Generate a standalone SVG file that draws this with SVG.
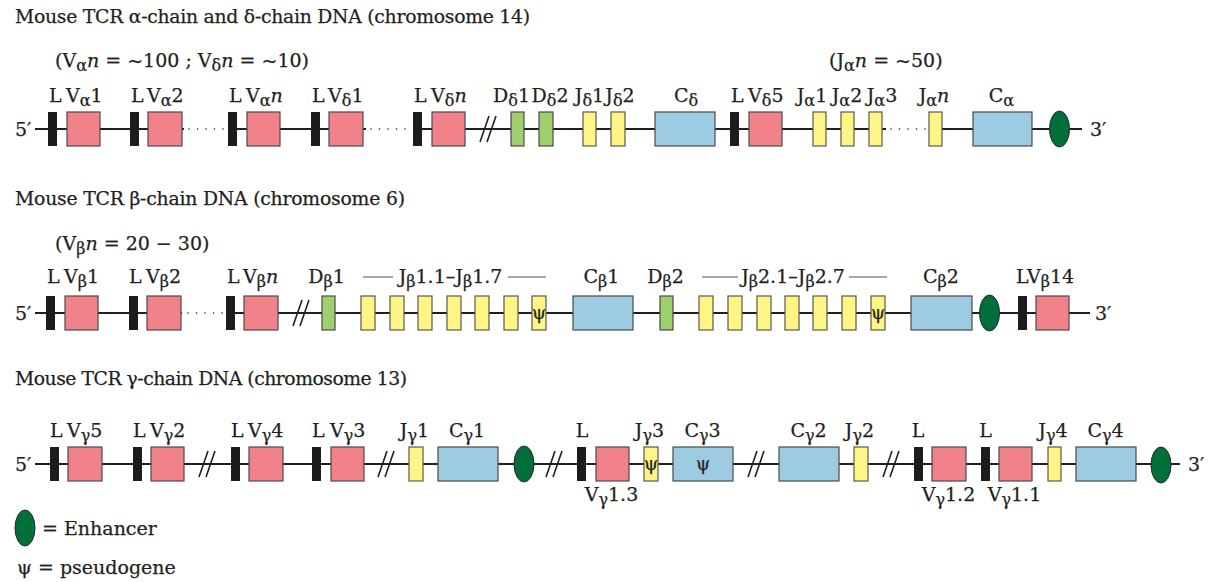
<svg xmlns="http://www.w3.org/2000/svg" width="1215" height="582" viewBox="0 0 1215 582">
<style>
.t{font-family:"DejaVu Serif","Liberation Serif",serif;fill:#231f20;font-size:19px;stroke:#231f20;stroke-width:0.25}
.ti{font-size:18.8px}
.s{font-size:16px}
.it{font-style:italic}
.ps{font-size:18px;text-anchor:middle}
.m{text-anchor:middle}
.L{fill:#1f1a1c}
.V{fill:#f28289;stroke:#4a4a4a;stroke-width:1.2}
.D{fill:#a0cf6e;stroke:#4a4a4a;stroke-width:1.2}
.J{fill:#fff586;stroke:#5a5a4a;stroke-width:1.2}
.C{fill:#9dcbe1;stroke:#4a4a4a;stroke-width:1.2}
.E{fill:#006f3a;stroke:#2a2a2a;stroke-width:1}
.bb{stroke:#231f20;stroke-width:2;fill:none}
.dt{stroke:#231f20;stroke-width:1.6;stroke-dasharray:0 8.5;stroke-linecap:round;fill:none}
.sl{stroke:#231f20;stroke-width:1.6;fill:none}
.br{stroke:#8a8a8a;stroke-width:1.5}
</style>

<!-- Titles -->
<text class="t ti" x="15" y="23" textLength="515">Mouse TCR α-chain and δ-chain DNA (chromosome 14)</text>
<text class="t ti" x="15" y="205" textLength="390">Mouse TCR β-chain DNA (chromosome 6)</text>
<text class="t ti" x="15" y="385" textLength="392">Mouse TCR γ-chain DNA (chromosome 13)</text>

<!-- Connectors: backbones, dots, breaks -->
<g id="connectors">
  <path class="bb" d="M35 129H184M228 129H366M413 129H886M929 129H1082"/>
  <path class="dt" d="M189 129H224M371 129H408M891 129H926"/>
  <path class="sl" d="M480 142L489 116M487 142L496 116"/>
  <path class="bb" d="M35 313H182M226 313H1090"/>
  <path class="dt" d="M188 313H223"/>
  <path class="sl" d="M293 326L302 300M300 326L309 300"/>
  <path class="bb" d="M35 464H1180"/>
  <path class="sl" d="M199 477L208 451M206 477L215 451"/>
  <path class="sl" d="M378 477L387 451M385 477L394 451"/>
  <path class="sl" d="M546 477L555 451M553 477L562 451"/>
  <path class="sl" d="M748 477L757 451M755 477L764 451"/>
  <path class="sl" d="M883 477L892 451M890 477L899 451"/>
</g>

<!-- Row 1 -->
<text class="t" x="15" y="136">5′</text>
<text class="t" x="1090" y="136">3′</text>
<text class="t" x="55" y="67">(V<tspan class="s" dy="4">α</tspan><tspan class="it" dy="-4">n</tspan> = ~100 ; V<tspan class="s" dy="4">δ</tspan><tspan class="it" dy="-4">n</tspan> = ~10)</text>
<text class="t" x="829" y="67">(J<tspan class="s" dy="4">α</tspan><tspan class="it" dy="-4">n</tspan> = ~50)</text>

<g id="Va1"><rect class="L" x="48" y="112" width="9" height="34"/><rect class="V" x="67" y="112" width="33" height="34"/><text class="t" y="102"><tspan x="49">L</tspan><tspan x="66">V</tspan><tspan class="s" dy="4">α</tspan><tspan dy="-4">1</tspan></text></g>
<g id="Va2"><rect class="L" x="130" y="112" width="9" height="34"/><rect class="V" x="148" y="112" width="34" height="34"/><text class="t" y="102"><tspan x="131">L</tspan><tspan x="147">V</tspan><tspan class="s" dy="4">α</tspan><tspan dy="-4">2</tspan></text></g>
<g id="Van"><rect class="L" x="228" y="112" width="9" height="34"/><rect class="V" x="247" y="112" width="33" height="34"/><text class="t" y="102"><tspan x="229">L</tspan><tspan x="246">V</tspan><tspan class="s" dy="4">α</tspan><tspan class="it" dy="-4">n</tspan></text></g>
<g id="Vd1"><rect class="L" x="311" y="112" width="9" height="34"/><rect class="V" x="329" y="112" width="34" height="34"/><text class="t" y="102"><tspan x="312">L</tspan><tspan x="328">V</tspan><tspan class="s" dy="4">δ</tspan><tspan dy="-4">1</tspan></text></g>
<g id="Vdn"><rect class="L" x="413" y="112" width="9" height="34"/><rect class="V" x="432" y="112" width="33" height="34"/><text class="t" y="102"><tspan x="414">L</tspan><tspan x="431">V</tspan><tspan class="s" dy="4">δ</tspan><tspan class="it" dy="-4">n</tspan></text></g>
<g id="Dd1"><rect class="D" x="511" y="112" width="13" height="34"/><text class="t m" x="511.5" y="102">D<tspan class="s" dy="4">δ</tspan><tspan dy="-4">1</tspan></text></g>
<g id="Dd2"><rect class="D" x="539" y="112" width="14" height="34"/><text class="t m" x="550" y="102">D<tspan class="s" dy="4">δ</tspan><tspan dy="-4">2</tspan></text></g>
<g id="Jd1"><rect class="J" x="583" y="112" width="13" height="34"/><text class="t m" x="589.5" y="102">J<tspan class="s" dy="4">δ</tspan><tspan dy="-4">1</tspan></text></g>
<g id="Jd2"><rect class="J" x="611" y="112" width="14" height="34"/><text class="t m" x="620" y="102">J<tspan class="s" dy="4">δ</tspan><tspan dy="-4">2</tspan></text></g>
<g id="Cd"><rect class="C" x="655" y="112" width="60" height="34"/><text class="t m" x="686" y="102">C<tspan class="s" dy="4">δ</tspan></text></g>
<g id="Vd5"><rect class="L" x="730" y="112" width="9" height="34"/><rect class="V" x="749" y="112" width="33" height="34"/><text class="t" y="102"><tspan x="731">L</tspan><tspan x="748">V</tspan><tspan class="s" dy="4">δ</tspan><tspan dy="-4">5</tspan></text></g>
<g id="Ja1"><rect class="J" x="813" y="112" width="13" height="34"/><text class="t m" x="812" y="102">J<tspan class="s" dy="4">α</tspan><tspan dy="-4">1</tspan></text></g>
<g id="Ja2"><rect class="J" x="841" y="112" width="13" height="34"/><text class="t m" x="847" y="102">J<tspan class="s" dy="4">α</tspan><tspan dy="-4">2</tspan></text></g>
<g id="Ja3"><rect class="J" x="869" y="112" width="13" height="34"/><text class="t m" x="882" y="102">J<tspan class="s" dy="4">α</tspan><tspan dy="-4">3</tspan></text></g>
<g id="Jan"><rect class="J" x="929" y="112" width="13" height="34"/><text class="t m" x="934" y="102">J<tspan class="s" dy="4">α</tspan><tspan class="it" dy="-4">n</tspan></text></g>
<g id="Ca"><rect class="C" x="973" y="112" width="59" height="34"/><text class="t m" x="1001.5" y="102">C<tspan class="s" dy="4">α</tspan></text></g>
<g id="Enh1"><ellipse class="E" cx="1059.5" cy="129" rx="10" ry="18"/></g>

<!-- Row 2 -->
<text class="t" x="15" y="320">5′</text>
<text class="t" x="1095" y="320">3′</text>
<text class="t" x="55" y="250">(V<tspan class="s" dy="4">β</tspan><tspan class="it" dy="-4">n</tspan> = 20 − 30)</text>

<g id="Vb1"><rect class="L" x="46" y="296" width="9" height="34"/><rect class="V" x="65" y="296" width="33" height="34"/><text class="t" y="283"><tspan x="47">L</tspan><tspan x="64">V</tspan><tspan class="s" dy="4">β</tspan><tspan dy="-4">1</tspan></text></g>
<g id="Vb2"><rect class="L" x="129" y="296" width="9" height="34"/><rect class="V" x="147" y="296" width="34" height="34"/><text class="t" y="283"><tspan x="129">L</tspan><tspan x="146">V</tspan><tspan class="s" dy="4">β</tspan><tspan dy="-4">2</tspan></text></g>
<g id="Vbn"><rect class="L" x="226" y="296" width="9" height="34"/><rect class="V" x="244" y="296" width="34" height="34"/><text class="t" y="283"><tspan x="227">L</tspan><tspan x="243">V</tspan><tspan class="s" dy="4">β</tspan><tspan class="it" dy="-4">n</tspan></text></g>
<g id="Db1"><rect class="D" x="322" y="296" width="13" height="34"/><text class="t m" x="326.5" y="283">D<tspan class="s" dy="4">β</tspan><tspan dy="-4">1</tspan></text></g>
<g id="Jb1">
  <line class="br" x1="363" y1="277" x2="393" y2="277"/><line class="br" x1="508" y1="277" x2="546" y2="277"/>
  <text class="t m" x="450.5" y="283">J<tspan class="s" dy="4">β</tspan><tspan dy="-4">1.1–J</tspan><tspan class="s" dy="4">β</tspan><tspan dy="-4">1.7</tspan></text>
  <rect class="J" x="361" y="296" width="14" height="34"/><rect class="J" x="390" y="296" width="14" height="34"/><rect class="J" x="418" y="296" width="14" height="34"/><rect class="J" x="447" y="296" width="14" height="34"/><rect class="J" x="475" y="296" width="14" height="34"/><rect class="J" x="504" y="296" width="14" height="34"/><rect class="J" x="532" y="296" width="14" height="34"/>
  <text class="t ps" x="539" y="319">ψ</text>
</g>
<g id="Cb1"><rect class="C" x="573" y="296" width="60" height="34"/><text class="t m" x="601.5" y="283">C<tspan class="s" dy="4">β</tspan><tspan dy="-4">1</tspan></text></g>
<g id="Db2"><rect class="D" x="660" y="296" width="13" height="34"/><text class="t m" x="665.5" y="283">D<tspan class="s" dy="4">β</tspan><tspan dy="-4">2</tspan></text></g>
<g id="Jb2">
  <line class="br" x1="702" y1="277" x2="738" y2="277"/><line class="br" x1="849" y1="277" x2="887" y2="277"/>
  <text class="t m" x="793" y="283">J<tspan class="s" dy="4">β</tspan><tspan dy="-4">2.1–J</tspan><tspan class="s" dy="4">β</tspan><tspan dy="-4">2.7</tspan></text>
  <rect class="J" x="699" y="296" width="14" height="34"/><rect class="J" x="728" y="296" width="14" height="34"/><rect class="J" x="757" y="296" width="14" height="34"/><rect class="J" x="785" y="296" width="14" height="34"/><rect class="J" x="813" y="296" width="14" height="34"/><rect class="J" x="842" y="296" width="14" height="34"/><rect class="J" x="871" y="296" width="14" height="34"/>
  <text class="t ps" x="878" y="319">ψ</text>
</g>
<g id="Cb2"><rect class="C" x="911" y="296" width="61" height="34"/><text class="t m" x="941" y="283">C<tspan class="s" dy="4">β</tspan><tspan dy="-4">2</tspan></text></g>
<g id="Enh2"><ellipse class="E" cx="989.5" cy="313" rx="10" ry="18"/></g>
<g id="Vb14"><rect class="L" x="1018" y="296" width="9" height="34"/><rect class="V" x="1036" y="296" width="33" height="34"/><text class="t" y="283"><tspan x="1016">L</tspan><tspan x="1027">V</tspan><tspan class="s" dy="4">β</tspan><tspan dy="-4">14</tspan></text></g>

<!-- Row 3 -->
<text class="t" x="15" y="471">5′</text>
<text class="t" x="1188" y="471">3′</text>

<g id="Vg5"><rect class="L" x="50" y="447" width="9" height="34"/><rect class="V" x="68" y="447" width="34" height="34"/><text class="t" y="437"><tspan x="50">L</tspan><tspan x="67">V</tspan><tspan class="s" dy="4">γ</tspan><tspan dy="-4">5</tspan></text></g>
<g id="Vg2"><rect class="L" x="133" y="447" width="9" height="34"/><rect class="V" x="151" y="447" width="33" height="34"/><text class="t" y="437"><tspan x="133">L</tspan><tspan x="150">V</tspan><tspan class="s" dy="4">γ</tspan><tspan dy="-4">2</tspan></text></g>
<g id="Vg4"><rect class="L" x="231" y="447" width="9" height="34"/><rect class="V" x="249" y="447" width="34" height="34"/><text class="t" y="437"><tspan x="231">L</tspan><tspan x="248">V</tspan><tspan class="s" dy="4">γ</tspan><tspan dy="-4">4</tspan></text></g>
<g id="Vg3"><rect class="L" x="312" y="447" width="9" height="34"/><rect class="V" x="331" y="447" width="33" height="34"/><text class="t" y="437"><tspan x="312">L</tspan><tspan x="330">V</tspan><tspan class="s" dy="4">γ</tspan><tspan dy="-4">3</tspan></text></g>
<g id="Jg1"><rect class="J" x="409" y="447" width="14" height="34"/><text class="t m" x="414.5" y="437">J<tspan class="s" dy="4">γ</tspan><tspan dy="-4">1</tspan></text></g>
<g id="Cg1"><rect class="C" x="438" y="447" width="60" height="34"/><text class="t m" x="467" y="437">C<tspan class="s" dy="4">γ</tspan><tspan dy="-4">1</tspan></text></g>
<g id="Enh3"><ellipse class="E" cx="524" cy="464" rx="10" ry="18"/></g>
<g id="Vg13"><rect class="L" x="577" y="447" width="9" height="34"/><rect class="V" x="596" y="447" width="33" height="34"/><text class="t m" x="582" y="437">L</text><text class="t m" x="611.5" y="501">V<tspan class="s" dy="4">γ</tspan><tspan dy="-4">1.3</tspan></text></g>
<g id="Jg3"><rect class="J" x="644" y="447" width="14" height="34"/><text class="t ps" x="651" y="470">ψ</text><text class="t m" x="649.5" y="437">J<tspan class="s" dy="4">γ</tspan><tspan dy="-4">3</tspan></text></g>
<g id="Cg3"><rect class="C" x="673" y="447" width="60" height="34"/><text class="t ps" x="703" y="470">ψ</text><text class="t m" x="702.5" y="437">C<tspan class="s" dy="4">γ</tspan><tspan dy="-4">3</tspan></text></g>
<g id="Cg2"><rect class="C" x="779" y="447" width="60" height="34"/><text class="t m" x="808.5" y="437">C<tspan class="s" dy="4">γ</tspan><tspan dy="-4">2</tspan></text></g>
<g id="Jg2"><rect class="J" x="854" y="447" width="14" height="34"/><text class="t m" x="859.5" y="437">J<tspan class="s" dy="4">γ</tspan><tspan dy="-4">2</tspan></text></g>
<g id="Vg12"><rect class="L" x="914" y="447" width="9" height="34"/><rect class="V" x="932" y="447" width="34" height="34"/><text class="t m" x="918" y="437">L</text><text class="t m" x="948.5" y="501">V<tspan class="s" dy="4">γ</tspan><tspan dy="-4">1.2</tspan></text></g>
<g id="Vg11"><rect class="L" x="981" y="447" width="9" height="34"/><rect class="V" x="999" y="447" width="33" height="34"/><text class="t m" x="985.5" y="437">L</text><text class="t m" x="1014.5" y="501">V<tspan class="s" dy="4">γ</tspan><tspan dy="-4">1.1</tspan></text></g>
<g id="Jg4"><rect class="J" x="1048" y="447" width="13" height="34"/><text class="t m" x="1053" y="437">J<tspan class="s" dy="4">γ</tspan><tspan dy="-4">4</tspan></text></g>
<g id="Cg4"><rect class="C" x="1076" y="447" width="60" height="34"/><text class="t m" x="1105.5" y="437">C<tspan class="s" dy="4">γ</tspan><tspan dy="-4">4</tspan></text></g>
<g id="Enh4"><ellipse class="E" cx="1161" cy="465" rx="10" ry="18"/></g>

<!-- Legend -->
<g id="legend-enhancer"><ellipse class="E" cx="25" cy="528" rx="10" ry="18"/><text class="t" x="42" y="535">= Enhancer</text></g>
<g id="legend-pseudogene"><text class="t" y="574"><tspan x="17" class="ps" style="text-anchor:start;font-size:19px">ψ</tspan><tspan x="38">= pseudogene</tspan></text></g>
</svg>
